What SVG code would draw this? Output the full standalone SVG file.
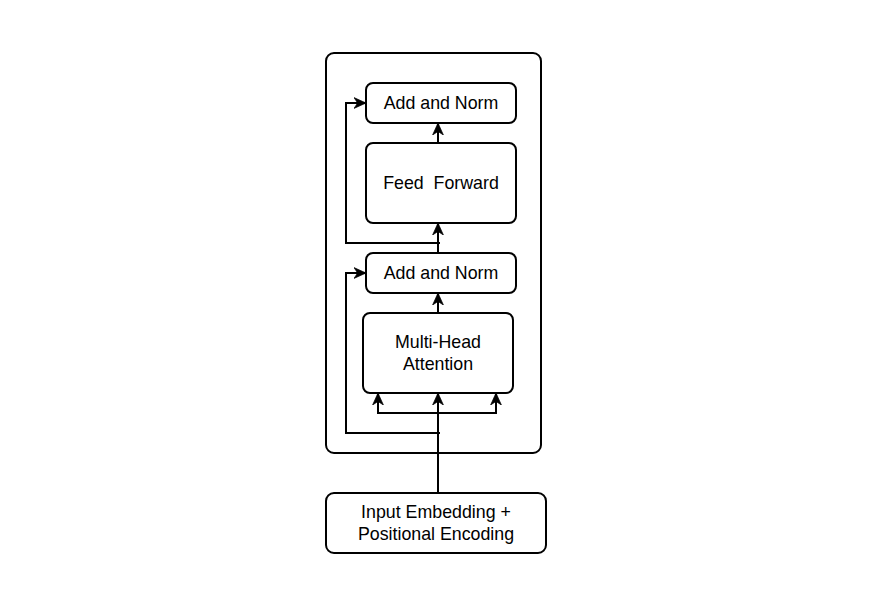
<svg xmlns="http://www.w3.org/2000/svg" width="881" height="610" viewBox="0 0 881 610">
<style>
.box{fill:#fff;stroke:#000;stroke-width:2}
.t{font-family:"Liberation Sans",Arial,sans-serif;font-size:17.8px;fill:#000;text-anchor:middle;white-space:pre}
.c{fill:none;stroke:#000;stroke-width:2}
</style>
<defs>
<marker id="a" viewBox="0 0 10 10" refX="10" refY="5" markerWidth="12" markerHeight="12" markerUnits="userSpaceOnUse" orient="auto">
<path d="M0,0.5 L10,5 L0,9.5 L3,5 Z" fill="#000" stroke="#000" stroke-width="0.6" stroke-linejoin="miter"/>
</marker>
</defs>
<rect width="881" height="610" fill="#fff"/>
<g id="encoder"><rect class="box" x="326" y="53" width="215" height="400" rx="8"/></g>
<g id="addnorm2"><rect class="box" x="366" y="83" width="150" height="40" rx="7"/><text class="t" x="441" y="109">Add and Norm</text></g>
<g id="ff"><rect class="box" x="366" y="143" width="150" height="80" rx="7"/><text class="t" x="441" y="189" xml:space="preserve">Feed  Forward</text></g>
<g id="addnorm1"><rect class="box" x="366" y="253" width="150" height="40" rx="7"/><text class="t" x="441" y="279">Add and Norm</text></g>
<g id="mha"><rect class="box" x="363" y="313" width="150" height="80" rx="7"/><text class="t" x="438" y="348">Multi-Head</text><text class="t" x="438" y="370">Attention</text></g>
<g id="input"><rect class="box" x="326" y="493" width="220" height="60" rx="8"/><text class="t" x="436" y="518">Input Embedding +</text><text class="t" x="436" y="540">Positional Encoding</text></g>
<g id="connectors">
<path class="c" d="M438,493 L438,396"/>
<path class="c" d="M438,413 L378,413 L378,396"/>
<path class="c" d="M438,413 L496,413 L496,396"/>
<path class="c" d="M440,433 L346,433 L346,273 L363,273"/>
<path class="c" d="M438,313 L438,296"/>
<path class="c" d="M438,253 L438,226"/>
<path class="c" d="M440,243 L346,243 L346,103 L363,103"/>
<path class="c" d="M438,143 L438,126"/>
<path class="c" d="M438,403 L438,393" marker-end="url(#a)"/>
<path class="c" d="M378,403 L378,393" marker-end="url(#a)"/>
<path class="c" d="M496,403 L496,393" marker-end="url(#a)"/>
<path class="c" d="M356,273 L366,273" marker-end="url(#a)"/>
<path class="c" d="M438,303 L438,293" marker-end="url(#a)"/>
<path class="c" d="M438,233 L438,223" marker-end="url(#a)"/>
<path class="c" d="M356,103 L366,103" marker-end="url(#a)"/>
<path class="c" d="M438,133 L438,123" marker-end="url(#a)"/>
</g>
</svg>
